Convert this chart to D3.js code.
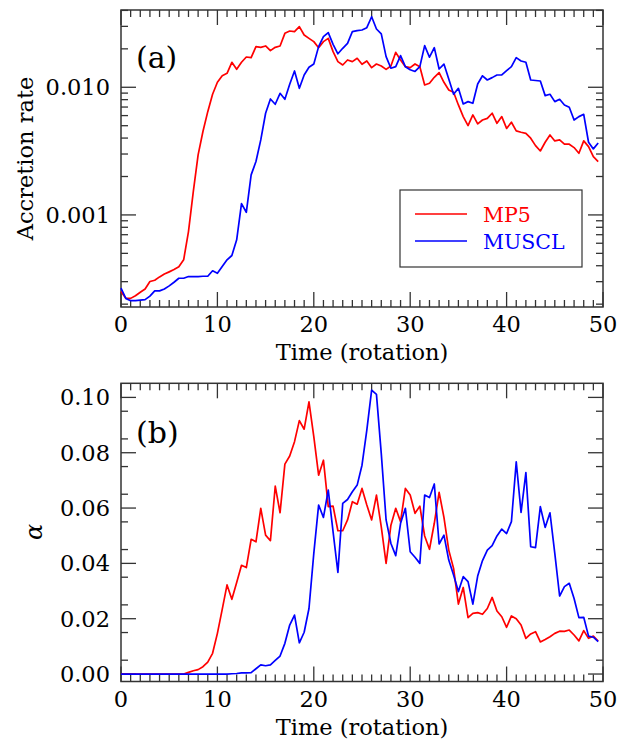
<!DOCTYPE html>
<html>
<head>
<meta charset="utf-8">
<script src="https://cdn.jsdelivr.net/npm/d3@7/dist/d3.min.js"></script>
<style>
  html, body { margin: 0; padding: 0; background: #fff; }
  svg text { font-family: "DejaVu Serif", serif; fill: #000; }
</style>
</head>
<body>
<svg id="chart" width="618" height="741"></svg>
<script>
// ---- data ----
const time = d3.range(0, 50, 0.5); // 0 ... 49.5 rotations

const accMP5 = [
  2.51e-4, 2.22e-4, 2.22e-4, 2.33e-4, 2.48e-4, 2.63e-4, 3.01e-4, 3.08e-4, 3.27e-4, 3.44e-4,
  3.58e-4, 3.73e-4, 3.92e-4, 4.45e-4, 7.41e-4, 1.52e-3, 2.95e-3, 4.50e-3, 6.44e-3, 8.81e-3,
  1.094e-2, 1.233e-2, 1.286e-2, 1.569e-2, 1.382e-2, 1.569e-2, 1.727e-2, 1.706e-2, 2.081e-2, 2.056e-2,
  2.106e-2, 1.936e-2, 2.056e-2, 2.106e-2, 2.646e-2, 2.76e-2, 2.727e-2, 2.985e-2, 2.568e-2, 2.417e-2,
  2.277e-2, 2.043e-2, 2.277e-2, 2.417e-2, 1.901e-2, 1.588e-2, 1.495e-2, 1.636e-2, 1.588e-2, 1.686e-2,
  1.513e-2, 1.607e-2, 1.425e-2, 1.522e-2, 1.468e-2, 1.382e-2, 1.468e-2, 1.878e-2, 1.636e-2, 1.45e-2,
  1.425e-2, 1.522e-2, 1.45e-2, 1.042e-2, 1.074e-2, 1.197e-2, 1.302e-2, 1.094e-2, 9.53e-3, 9.13e-3,
  7.27e-3, 5.89e-3, 5.01e-3, 6.07e-3, 5.16e-3, 5.54e-3, 5.71e-3, 6.26e-3, 5.22e-3, 5.89e-3,
  4.76e-3, 5.32e-3, 4.55e-3, 4.44e-3, 4.36e-3, 3.99e-3, 3.49e-3, 3.17e-3, 3.71e-3, 4.23e-3,
  3.80e-3, 3.87e-3, 3.58e-3, 3.58e-3, 3.37e-3, 3.04e-3, 3.80e-3, 3.43e-3, 2.86e-3, 2.62e-3
];
const accMUSCL = [
  2.67e-4, 2.22e-4, 2.13e-4, 2.13e-4, 2.15e-4, 2.17e-4, 2.31e-4, 2.54e-4, 2.54e-4, 2.63e-4,
  2.78e-4, 2.97e-4, 3.19e-4, 3.19e-4, 3.29e-4, 3.29e-4, 3.29e-4, 3.31e-4, 3.31e-4, 3.65e-4,
  3.49e-4, 3.94e-4, 4.45e-4, 4.81e-4, 6.38e-4, 1.227e-3, 1.049e-3, 2.06e-3, 2.62e-3, 3.87e-3,
  6.26e-3, 8.10e-3, 7.36e-3, 8.97e-3, 8.05e-3, 1.055e-2, 1.342e-2, 9.81e-3, 1.248e-2, 1.434e-2,
  1.522e-2, 2.081e-2, 2.49e-2, 2.68e-2, 2.17e-2, 1.83e-2, 2.02e-2, 2.21e-2, 2.727e-2, 2.78e-2,
  2.81e-2, 2.93e-2, 3.57e-2, 2.86e-2, 2.62e-2, 1.74e-2, 1.41e-2, 1.45e-2, 1.77e-2, 1.45e-2,
  1.37e-2, 1.33e-2, 1.45e-2, 2.12e-2, 1.72e-2, 2.043e-2, 1.39e-2, 1.52e-2, 1.16e-2, 8.81e-3,
  9.81e-3, 7.40e-3, 7.72e-3, 7.49e-3, 1.06e-2, 1.23e-2, 1.14e-2, 1.19e-2, 1.248e-2, 1.248e-2,
  1.35e-2, 1.45e-2, 1.706e-2, 1.607e-2, 1.569e-2, 1.14e-2, 1.13e-2, 1.12e-2, 8.60e-3, 8.81e-3,
  7.72e-3, 8.05e-3, 7.27e-3, 6.97e-3, 5.54e-3, 5.89e-3, 6.14e-3, 3.71e-3, 3.29e-3, 3.66e-3
];

const alphaMP5 = [
  0, 0, 0, 0, 0, 0, 0, 0, 0, 0,
  0, 0, 0, 0, 0.0006, 0.0012, 0.0016, 0.00265, 0.0043, 0.0075,
  0.0147, 0.0234, 0.0322, 0.0270, 0.0331, 0.0393, 0.0385, 0.0487, 0.0478, 0.0599,
  0.0502, 0.0482, 0.0679, 0.0583, 0.0759, 0.0788, 0.0840, 0.0916, 0.0885, 0.0984,
  0.0858, 0.0719, 0.0773, 0.0605, 0.0607, 0.0518, 0.0518, 0.0557, 0.0623, 0.0614,
  0.0671, 0.0611, 0.0557, 0.0647, 0.0532, 0.0400, 0.0538, 0.0599, 0.0551, 0.0671,
  0.0647, 0.0581, 0.0607, 0.0499, 0.0451, 0.0545, 0.0657, 0.0566, 0.0448, 0.0382,
  0.0253, 0.0313, 0.0204, 0.0219, 0.0222, 0.0216, 0.0237, 0.0277, 0.0228, 0.0207,
  0.0169, 0.0210, 0.0200, 0.0177, 0.0129, 0.0145, 0.0153, 0.0116, 0.0125, 0.0135,
  0.0147, 0.0155, 0.0154, 0.0159, 0.0141, 0.0120, 0.0157, 0.0129, 0.0137, 0.0119
];
const alphaMUSCL = [
  0, 0, 0, 0, 0, 0, 0, 0, 0, 0,
  0, 0, 0, 0, 0, 0, 0, 0, 0, 0,
  0, 0, 0, 0.0001, 0.0002, 0.0004, 0.0004, 0.0005, 0.0019, 0.0033,
  0.0030, 0.0033, 0.0049, 0.0065, 0.0111, 0.0177, 0.0213, 0.0113, 0.0151, 0.0237,
  0.0436, 0.0611, 0.0566, 0.0665, 0.0514, 0.0367, 0.0617, 0.0631, 0.0659, 0.0683,
  0.0755, 0.0882, 0.1026, 0.1011, 0.0797, 0.0557, 0.0472, 0.0428, 0.0545, 0.0599,
  0.0442, 0.0422, 0.0400, 0.0647, 0.0638, 0.0687, 0.0470, 0.0502, 0.0412, 0.0358,
  0.0298, 0.0352, 0.0334, 0.0253, 0.0354, 0.0410, 0.0448, 0.0464, 0.0499, 0.0524,
  0.0508, 0.0551, 0.0767, 0.0584, 0.0728, 0.0460, 0.0457, 0.0605, 0.0530, 0.0583,
  0.0436, 0.0282, 0.0316, 0.0328, 0.0273, 0.0204, 0.0205, 0.0137, 0.0133, 0.0117
];

const seriesNames = ["MP5", "MUSCL"];
const seriesColors = ["#ff0000", "#0000ff"];
const xTickLabels = [0, 10, 20, 30, 40, 50];
const accTickValues = [0.001, 0.01];
const accTickLabels = ["0.001", "0.010"];
const alphaTickValues = [0, 0.02, 0.04, 0.06, 0.08, 0.10];
const alphaTickLabels = ["0.00", "0.02", "0.04", "0.06", "0.08", "0.10"];

// ---- layout ----
const svg = d3.select("#chart");
const L = 121, R = 603;
const axisColor = "#333";
const fontSize = 22.5;

const x = d3.scaleLinear().domain([0, 50]).range([L, R]);
const yA = d3.scaleLog().domain([1.9e-4, 4.03e-2]).range([307, 10]);
const yB = d3.scaleLinear().domain([-0.0027, 0.1051]).range([681.5, 383.3]);

function frame(y, top, bottom, majorY, minorY) {
  const g = svg.append("g");
  g.append("rect").attr("x", L).attr("y", top).attr("width", R - L).attr("height", bottom - top)
    .attr("fill", "none").attr("stroke", axisColor).attr("stroke-width", 1.5);
  const MAJ = 15, MIN = 7;
  // x ticks (bottom + top)
  const xMinor = d3.range(0, 51, 1).filter(v => v % 10 !== 0);
  [[bottom, -1], [top, 1]].forEach(([yy, dir]) => {
    g.selectAll(null).data(xTickLabels).enter().append("line")
      .attr("x1", d => x(d)).attr("x2", d => x(d))
      .attr("y1", yy).attr("y2", yy + dir * MAJ)
      .attr("stroke", axisColor).attr("stroke-width", 1.3);
    g.selectAll(null).data(xMinor).enter().append("line")
      .attr("x1", d => x(d)).attr("x2", d => x(d))
      .attr("y1", yy).attr("y2", yy + dir * MIN)
      .attr("stroke", axisColor).attr("stroke-width", 1.3);
  });
  // y ticks (left + right)
  [[L, 1], [R, -1]].forEach(([xx, dir]) => {
    g.selectAll(null).data(majorY).enter().append("line")
      .attr("x1", xx).attr("x2", xx + dir * MAJ)
      .attr("y1", d => y(d)).attr("y2", d => y(d))
      .attr("stroke", axisColor).attr("stroke-width", 1.3);
    g.selectAll(null).data(minorY).enter().append("line")
      .attr("x1", xx).attr("x2", xx + dir * MIN)
      .attr("y1", d => y(d)).attr("y2", d => y(d))
      .attr("stroke", axisColor).attr("stroke-width", 1.3);
  });
  // x tick labels
  g.selectAll(null).data(xTickLabels).enter().append("text")
    .attr("x", d => x(d)).attr("y", bottom + 25)
    .attr("text-anchor", "middle").attr("font-size", fontSize)
    .text(d => d);
  // x title
  g.append("text").attr("x", (L + R) / 2).attr("y", bottom + 53)
    .attr("text-anchor", "middle").attr("font-size", fontSize)
    .text("Time (rotation)");
  return g;
}

// ---- panel (a) ----
const accMinor = [];
[1e-4, 1e-3, 1e-2].forEach(dec => {
  for (let m = 2; m <= 9; m++) {
    const v = m * dec;
    if (v >= 1.9e-4 && v <= 4.03e-2) accMinor.push(v);
  }
});
const gA = frame(yA, 10, 307, accTickValues, accMinor);
gA.selectAll(null).data(accTickValues).enter().append("text")
  .attr("x", 110).attr("y", d => yA(d) + 8)
  .attr("text-anchor", "end").attr("font-size", fontSize)
  .text((d, i) => accTickLabels[i]);
gA.append("text").attr("transform", "translate(33,158.5) rotate(-90)")
  .attr("text-anchor", "middle").attr("font-size", fontSize)
  .text("Accretion rate");
gA.append("text").attr("x", 136).attr("y", 68).attr("font-size", 30).text("(a)");

const lineA = d3.line().x((d, i) => x(time[i])).y(d => yA(d));
[accMP5, accMUSCL].forEach((s, k) => {
  svg.append("path").datum(s).attr("d", lineA)
    .attr("fill", "none").attr("stroke", seriesColors[k]).attr("stroke-width", 1.7)
    .attr("stroke-linejoin", "round");
});

// legend
const lg = svg.append("g");
lg.append("rect").attr("x", 400).attr("y", 190).attr("width", 182).attr("height", 77)
  .attr("fill", "#fff").attr("stroke", axisColor).attr("stroke-width", 1.2);
seriesNames.forEach((name, i) => {
  const yy = 214 + i * 27;
  lg.append("line").attr("x1", 415).attr("x2", 467).attr("y1", yy).attr("y2", yy)
    .attr("stroke", seriesColors[i]).attr("stroke-width", 1.7);
  lg.append("text").attr("x", 483).attr("y", yy + 8).attr("font-size", 20.5)
    .style("fill", seriesColors[i]).text(name);
});

// ---- panel (b) ----
const alphaMinor = d3.range(0.005, 0.105, 0.01);
const gB = frame(yB, 383.3, 681.5, alphaTickValues, alphaMinor);
gB.selectAll(null).data(alphaTickValues).enter().append("text")
  .attr("x", 110).attr("y", d => yB(d) + 8)
  .attr("text-anchor", "end").attr("font-size", fontSize)
  .text((d, i) => alphaTickLabels[i]);
gB.append("text").attr("transform", "translate(42,532) rotate(-90)")
  .attr("text-anchor", "middle").attr("font-size", 24).attr("font-style", "italic")
  .text("α");
gB.append("text").attr("x", 136).attr("y", 443).attr("font-size", 30).text("(b)");

const lineB = d3.line().x((d, i) => x(time[i])).y(d => yB(d));
[alphaMP5, alphaMUSCL].forEach((s, k) => {
  svg.append("path").datum(s).attr("d", lineB)
    .attr("fill", "none").attr("stroke", seriesColors[k]).attr("stroke-width", 1.7)
    .attr("stroke-linejoin", "round");
});
</script>
</body>
</html>
